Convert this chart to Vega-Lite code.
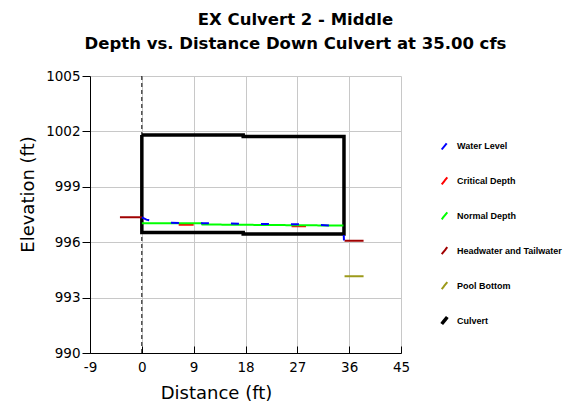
{
  "$schema": "https://vega.github.io/schema/vega-lite/v6.json",
  "width": 311,
  "height": 277,
  "autosize": {"type": "none"},
  "padding": {"left": 90, "top": 76, "right": 164, "bottom": 61},
  "background": "white",
  "config": {"view": {"stroke": null}, "font": "DejaVu Sans"},
  "title": {
    "text": ["EX Culvert 2 - Middle", "Depth vs. Distance Down Culvert at 35.00 cfs"],
    "font": "DejaVu Sans",
    "fontSize": 16.5,
    "fontWeight": "bold",
    "color": "black",
    "anchor": "middle",
    "dx": 50,
    "lineHeight": 24,
    "offset": 17
  },
  "data": {
    "values": [
      {"series": "Culvert", "seg": "c", "o": 1, "x": 0, "y": 1001.8},
      {"series": "Culvert", "seg": "c", "o": 2, "x": 17.6, "y": 1001.8},
      {"series": "Culvert", "seg": "c", "o": 3, "x": 17.6, "y": 1001.72},
      {"series": "Culvert", "seg": "c", "o": 4, "x": 35.1, "y": 1001.72},
      {"series": "Culvert", "seg": "c", "o": 5, "x": 35.1, "y": 996.45},
      {"series": "Culvert", "seg": "c", "o": 6, "x": 17.6, "y": 996.45},
      {"series": "Culvert", "seg": "c", "o": 7, "x": 17.6, "y": 996.52},
      {"series": "Culvert", "seg": "c", "o": 8, "x": 0, "y": 996.52},
      {"series": "Culvert", "seg": "c", "o": 9, "x": 0, "y": 1001.8},
      {"series": "Headwater and Tailwater", "seg": "hw", "o": 1, "x": -3.8, "y": 997.35},
      {"series": "Headwater and Tailwater", "seg": "hw", "o": 2, "x": 0, "y": 997.35},
      {"series": "Headwater and Tailwater", "seg": "tw", "o": 1, "x": 35.2, "y": 996.08},
      {"series": "Headwater and Tailwater", "seg": "tw", "o": 2, "x": 38.5, "y": 996.08},
      {"series": "Pool Bottom", "seg": "pb", "o": 1, "x": 35.2, "y": 994.15},
      {"series": "Pool Bottom", "seg": "pb", "o": 2, "x": 38.5, "y": 994.15},
      {"series": "Critical Depth", "seg": "cd1", "o": 1, "x": 6.4, "y": 996.95},
      {"series": "Critical Depth", "seg": "cd1", "o": 2, "x": 9.0, "y": 996.95},
      {"series": "Critical Depth", "seg": "cd2", "o": 1, "x": 26.0, "y": 996.87},
      {"series": "Critical Depth", "seg": "cd2", "o": 2, "x": 28.5, "y": 996.87},
      {"series": "Normal Depth", "seg": "nd", "o": 1, "x": 0, "y": 997.03},
      {"series": "Normal Depth", "seg": "nd", "o": 2, "x": 10.4, "y": 997.03},
      {"series": "Normal Depth", "seg": "nd", "o": 3, "x": 10.5, "y": 996.96},
      {"series": "Normal Depth", "seg": "nd", "o": 4, "x": 35.0, "y": 996.9},
      {"series": "Water Level", "seg": "wl", "o": 1, "x": 0, "y": 997.35},
      {"series": "Water Level", "seg": "wl", "o": 2, "x": 0.8, "y": 997.22},
      {"series": "Water Level", "seg": "wl", "o": 3, "x": 2.4, "y": 997.1},
      {"series": "Water Level", "seg": "wl", "o": 4, "x": 5, "y": 997.05},
      {"series": "Water Level", "seg": "wl", "o": 5, "x": 9, "y": 997.03},
      {"series": "Water Level", "seg": "wl", "o": 6, "x": 18, "y": 997.0},
      {"series": "Water Level", "seg": "wl", "o": 7, "x": 27, "y": 996.97},
      {"series": "Water Level", "seg": "wl", "o": 8, "x": 33.5, "y": 996.9},
      {"series": "Water Level", "seg": "wl", "o": 9, "x": 35.0, "y": 996.78},
      {"series": "Water Level", "seg": "wl", "o": 10, "x": 35.1, "y": 996.1}
    ]
  },
  "layer": [
    {
      "data": {"values": [{"x": 0}]},
      "mark": {"type": "rule", "color": "black", "strokeWidth": 1, "strokeDash": [4, 3]},
      "encoding": {"x": {"field": "x", "type": "quantitative"}}
    },
    {
      "encoding": {
        "x": {
          "field": "x",
          "type": "quantitative",
          "scale": {"domain": [-9, 45], "nice": false, "zero": false},
          "axis": {
            "values": [-9, 0, 9, 18, 27, 36, 45],
            "labelExpr": "datum.value < 0 ? '-' + abs(datum.value) : '' + datum.value",
            "title": "Distance (ft)",
            "titleFont": "DejaVu Sans",
            "titleFontSize": 18,
            "titleFontWeight": "normal",
            "titleColor": "black",
            "titleX": 126,
            "titleY": 40,
            "titleAlign": "center",
            "titleBaseline": "middle",
            "labelFont": "DejaVu Sans",
            "labelFontSize": 13.5,
            "labelColor": "black",
            "labelPadding": 14,
            "tickSize": -7,
            "tickColor": "black",
            "domainColor": "black",
            "gridColor": "#c8c8c8",
            "labelFlush": false,
            "labelOverlap": false
          }
        },
        "y": {
          "field": "y",
          "type": "quantitative",
          "scale": {"domain": [990, 1005], "nice": false, "zero": false},
          "axis": {
            "values": [990, 993, 996, 999, 1002, 1005],
            "format": "d",
            "title": "Elevation (ft)",
            "titleFont": "DejaVu Sans",
            "titleFontSize": 18,
            "titleFontWeight": "normal",
            "titleColor": "black",
            "titleX": -62,
            "titleY": 118,
            "titleAngle": -90,
            "titleAlign": "center",
            "titleBaseline": "middle",
            "labelFont": "DejaVu Sans",
            "labelFontSize": 13.5,
            "labelColor": "black",
            "labelPadding": 2,
            "tickSize": 8,
            "tickColor": "black",
            "domainColor": "black",
            "gridColor": "#c8c8c8",
            "labelFlush": false,
            "labelOverlap": false
          }
        },
        "color": {
          "field": "series",
          "type": "nominal",
          "scale": {
            "domain": ["Water Level", "Critical Depth", "Normal Depth", "Headwater and Tailwater", "Pool Bottom", "Culvert"],
            "range": ["#0000ff", "#ff0000", "#00ff00", "#a00000", "#9c9a1a", "#000000"]
          },
          "legend": {
            "title": null,
            "orient": "none",
            "legendX": 349,
            "legendY": 65,
            "symbolType": "M-0.8,1L0.8,-1",
            "symbolSize": 49,
            "symbolFillColor": "transparent",
            "labelFont": "Liberation Sans",
            "labelFontSize": 9,
            "labelFontWeight": "bold",
            "labelColor": "black",
            "labelOffset": 7,
            "clipHeight": 10,
            "rowPadding": 24.9
          }
        },
        "strokeWidth": {
          "field": "series",
          "type": "ordinal",
          "scale": {
            "type": "ordinal",
            "domain": ["Water Level", "Critical Depth", "Normal Depth", "Headwater and Tailwater", "Pool Bottom", "Culvert"],
            "range": [2, 2, 2, 2, 2, 3.5]
          }
        },
        "strokeDash": {
          "field": "series",
          "type": "nominal",
          "scale": {
            "domain": ["Water Level", "Critical Depth", "Normal Depth", "Headwater and Tailwater", "Pool Bottom", "Culvert"],
            "range": [[8, 22], [1, 0], [1, 0], [1, 0], [1, 0], [1, 0]]
          }
        },
        "detail": {"field": "seg", "type": "nominal"},
        "order": {"field": "o", "type": "quantitative"}
      },
      "layer": [
        {
          "transform": [{"filter": "datum.series != 'Water Level' && datum.series != 'Normal Depth'"}],
          "mark": {"type": "line"}
        },
        {
          "transform": [{"filter": "datum.series == 'Normal Depth'"}],
          "mark": {"type": "line"}
        },
        {
          "transform": [{"filter": "datum.series == 'Water Level'"}],
          "mark": {"type": "line"}
        }
      ]
    }
  ]
}
